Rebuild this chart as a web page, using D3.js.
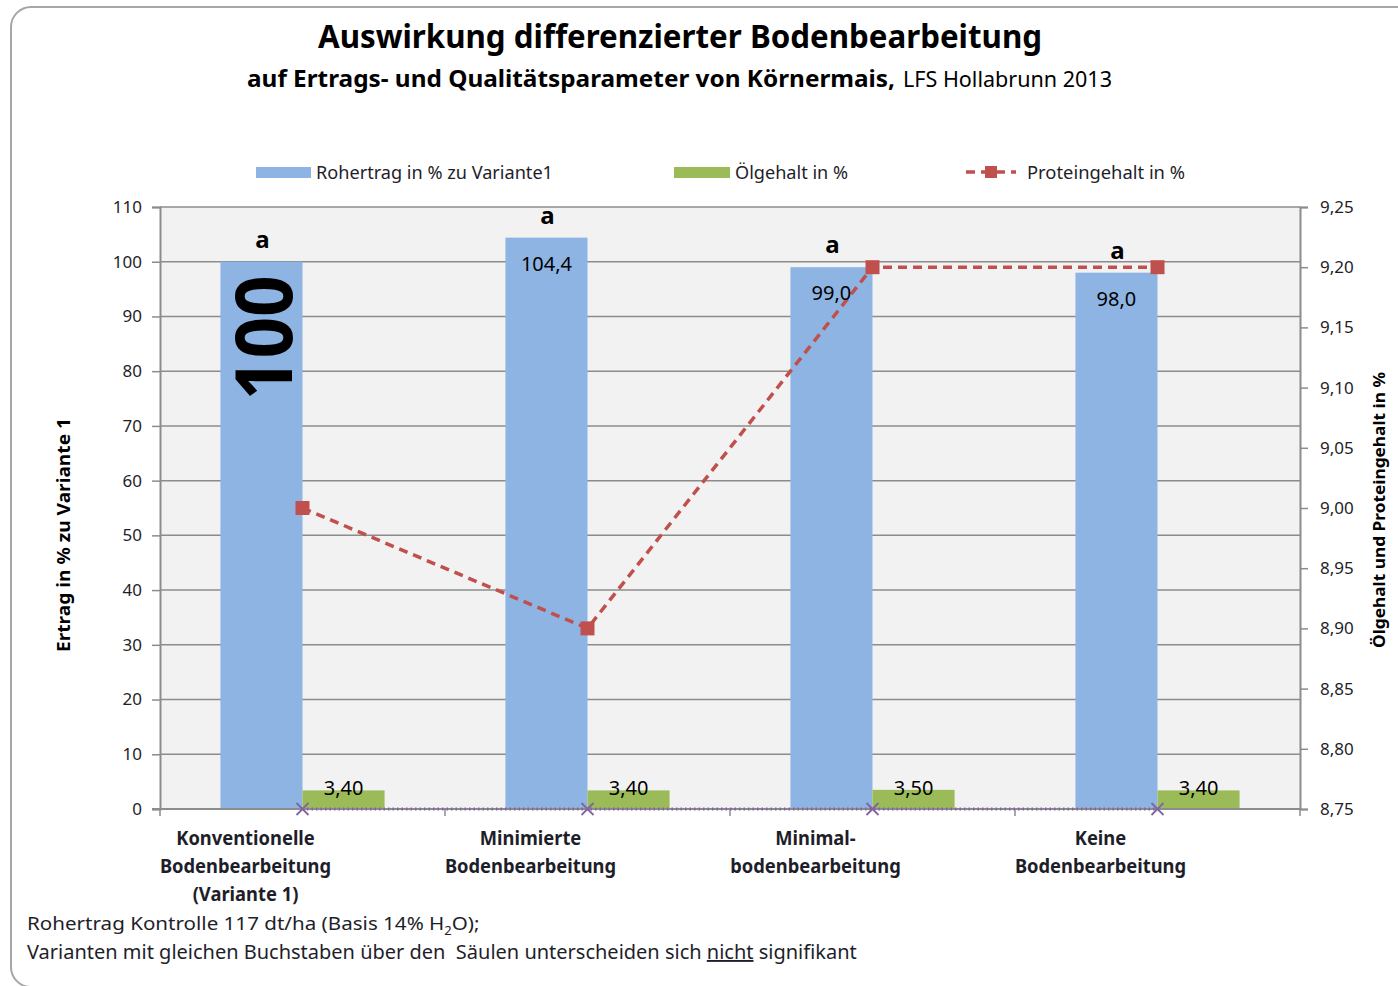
<!DOCTYPE html>
<html>
<head>
<meta charset="utf-8">
<script src="https://cdn.jsdelivr.net/npm/d3@7"></script>
<style>
  body { margin: 0; background: #fff; }
  svg { display: block; font-family: "Noto Sans", "Open Sans", sans-serif; }
</style>
</head>
<body>
<div id="chart"></div>
<script>
var categories = [
  ["Konventionelle", "Bodenbearbeitung", "(Variante 1)"],
  ["Minimierte", "Bodenbearbeitung"],
  ["Minimal-", "bodenbearbeitung"],
  ["Keine", "Bodenbearbeitung"]
];
var rohertrag = [100, 104.4, 99.0, 98.0];
var oelgehalt = [3.4, 3.4, 3.5, 3.4];
var protein = [9.0, 8.9, 9.2, 9.2];
var hidden = [0, 0, 0, 0];
var letters = ["a", "a", "a", "a"];
var leftTicks = [0, 10, 20, 30, 40, 50, 60, 70, 80, 90, 100, 110];
var rightTicks = [8.75, 8.8, 8.85, 8.9, 8.95, 9.0, 9.05, 9.1, 9.15, 9.2, 9.25];

var W = 1398, H = 986;
var plot = { left: 160, right: 1300, top: 207, bottom: 809 };
var blue = "#8eb4e3", green = "#9bbb59", red = "#c0504d", purple = "#8064a2";
var gridColor = "#8c8c8c", textColor = "#1e1e2a";

var fmt = function(v, n) { return v.toFixed(n).replace(".", ","); };
var fit = function(sel, w) {
  return sel.attr("textLength", w).attr("lengthAdjust", "spacingAndGlyphs");
};
// horizontal squeeze for texts built from several tspans
var squeeze = function(sel, x0, w) {
  var bw = sel.node().getBBox().width;
  sel.attr("transform", "translate(" + x0 + ",0) scale(" + (w / bw) + ",1) translate(" + -x0 + ",0)");
};

var svg = d3.select("#chart").append("svg").attr("width", W).attr("height", H);

// outer frame
svg.append("rect")
  .attr("x", 11).attr("y", 7).attr("width", 1430).attr("height", 980)
  .attr("rx", 20).attr("fill", "#fff")
  .attr("stroke", "#a6a6a6").attr("stroke-width", 2);

// titles
fit(svg.append("text").attr("x", 318).attr("y", 48)
  .attr("font-size", 33).attr("font-weight", "bold").attr("fill", "#000")
  .text("Auswirkung differenzierter Bodenbearbeitung"), 724);
fit(svg.append("text").attr("x", 247).attr("y", 87)
  .attr("font-size", 24).attr("font-weight", "bold").attr("fill", "#000")
  .text("auf Ertrags- und Qualitätsparameter von Körnermais,"), 648);
fit(svg.append("text").attr("x", 903).attr("y", 87)
  .attr("font-size", 22).attr("fill", "#000")
  .text("LFS Hollabrunn 2013"), 209);

var x = d3.scaleBand().domain(d3.range(categories.length))
  .range([plot.left, plot.right]).paddingInner(0).paddingOuter(0);
var barW = x.bandwidth() * 0.288;
var cx = function(i) { return x(i) + x.bandwidth() / 2; };
var yL = d3.scaleLinear().domain([0, 110]).range([plot.bottom, plot.top]);
var yR = d3.scaleLinear().domain([8.75, 9.25]).range([plot.bottom, plot.top]);

// plot background and grid
svg.append("rect")
  .attr("x", plot.left).attr("y", plot.top)
  .attr("width", plot.right - plot.left).attr("height", plot.bottom - plot.top)
  .attr("fill", "#f2f2f2");

svg.append("g").attr("class", "grid")
  .selectAll("line").data(leftTicks.slice(1)).enter().append("line")
  .attr("x1", plot.left).attr("x2", plot.right)
  .attr("y1", function(d) { return yL(d); }).attr("y2", function(d) { return yL(d); })
  .attr("stroke", gridColor).attr("stroke-width", 1.5);

// left axis
var leftAxis = svg.append("g")
  .attr("transform", "translate(" + plot.left + ",0)")
  .call(d3.axisLeft(yL).tickValues(leftTicks).tickSize(8).tickPadding(10));
leftAxis.select(".domain").attr("stroke", gridColor).attr("stroke-width", 2);
leftAxis.selectAll(".tick line").attr("stroke", gridColor).attr("stroke-width", 1.5);
leftAxis.selectAll(".tick text")
  .attr("font-size", 17).attr("fill", textColor).attr("font-family", "Noto Sans");

// right axis
var rightAxis = svg.append("g")
  .attr("transform", "translate(" + plot.right + ",0)")
  .call(d3.axisRight(yR).tickValues(rightTicks).tickSize(8).tickPadding(12)
    .tickFormat(function(d) { return fmt(d, 2); }));
rightAxis.select(".domain").attr("stroke", gridColor).attr("stroke-width", 2);
rightAxis.selectAll(".tick line").attr("stroke", gridColor).attr("stroke-width", 1.5);
rightAxis.selectAll(".tick text")
  .attr("font-size", 17).attr("fill", textColor).attr("font-family", "Noto Sans");

// bars
var bars = svg.append("g").attr("class", "bars");
bars.selectAll(".blue").data(rohertrag).enter().append("rect")
  .attr("class", "blue")
  .attr("x", function(d, i) { return cx(i) - barW; })
  .attr("y", function(d) { return yL(d); })
  .attr("width", barW)
  .attr("height", function(d) { return yL(0) - yL(d); })
  .attr("fill", blue);
bars.selectAll(".green").data(oelgehalt).enter().append("rect")
  .attr("class", "green")
  .attr("x", function(d, i) { return cx(i); })
  .attr("y", function(d) { return yL(d); })
  .attr("width", barW)
  .attr("height", function(d) { return yL(0) - yL(d); })
  .attr("fill", green);

// x axis
var xAxis = svg.append("g");
xAxis.append("line")
  .attr("x1", plot.left - 8).attr("x2", plot.right)
  .attr("y1", plot.bottom).attr("y2", plot.bottom)
  .attr("stroke", gridColor).attr("stroke-width", 2);
xAxis.selectAll(".xt").data(d3.range(categories.length + 1)).enter().append("line")
  .attr("x1", function(d) { return plot.left + d * x.bandwidth(); })
  .attr("x2", function(d) { return plot.left + d * x.bandwidth(); })
  .attr("y1", plot.bottom).attr("y2", plot.bottom + 7)
  .attr("stroke", gridColor).attr("stroke-width", 1.5);

// hidden series on the baseline
var lineH = d3.line().x(function(d, i) { return cx(i); }).y(function(d) { return yL(d); });
svg.append("path").datum(hidden)
  .attr("d", lineH).attr("fill", "none")
  .attr("stroke", purple).attr("stroke-width", 3).attr("stroke-dasharray", "1.5,3");
svg.selectAll(".cross").data(hidden).enter().append("path")
  .attr("class", "cross")
  .attr("d", function(d, i) {
    var px = cx(i), py = yL(d), s = 6;
    return "M" + (px - s) + "," + (py - s) + "L" + (px + s) + "," + (py + s) +
      "M" + (px - s) + "," + (py + s) + "L" + (px + s) + "," + (py - s);
  })
  .attr("stroke", purple).attr("stroke-width", 1.8);

// protein line
var lineP = d3.line().x(function(d, i) { return cx(i); }).y(function(d) { return yR(d); });
svg.append("path").datum(protein)
  .attr("d", lineP).attr("fill", "none")
  .attr("stroke", red).attr("stroke-width", 3.5).attr("stroke-dasharray", "9,6");
svg.selectAll(".pm").data(protein).enter().append("rect")
  .attr("class", "pm")
  .attr("x", function(d, i) { return cx(i) - 7; })
  .attr("y", function(d) { return yR(d) - 7; })
  .attr("width", 14).attr("height", 14).attr("fill", red);

// value labels
svg.append("text")
  .attr("transform", "translate(" + (cx(0) - barW / 2 + 31) + "," + (yL(rohertrag[0]) + 76) + ") rotate(-90)")
  .attr("text-anchor", "middle").attr("font-size", 78).attr("font-weight", "bold")
  .attr("fill", "#000").attr("textLength", 125).attr("lengthAdjust", "spacingAndGlyphs")
  .text(fmt(rohertrag[0], 0));
svg.selectAll(".vl").data(rohertrag.slice(1)).enter().append("text")
  .attr("class", "vl")
  .attr("x", function(d, i) { return cx(i + 1) - barW / 2; })
  .attr("y", function(d) { return yL(d) + 33; })
  .attr("text-anchor", "middle").attr("font-size", 20).attr("fill", "#000")
  .text(function(d) { return fmt(d, 1); });
svg.selectAll(".lt").data(letters).enter().append("text")
  .attr("class", "lt")
  .attr("x", function(d, i) { return cx(i) - barW / 2 + 1; })
  .attr("y", function(d, i) { return yL(rohertrag[i]) - 14; })
  .attr("text-anchor", "middle").attr("font-size", 24).attr("font-weight", "bold")
  .attr("fill", "#000")
  .text(function(d) { return d; });
svg.selectAll(".gl").data(oelgehalt).enter().append("text")
  .attr("class", "gl")
  .attr("x", function(d, i) { return cx(i) + barW / 2; })
  .attr("y", function(d) { return yL(d) + 5; })
  .attr("text-anchor", "middle").attr("font-size", 20).attr("fill", "#000")
  .text(function(d) { return fmt(d, 2); });

// category labels
var cat = svg.selectAll(".cat").data(categories).enter().append("g").attr("class", "cat");
cat.selectAll("text").data(function(d, i) {
    return d.map(function(t, j) { return { t: t, j: j, i: i }; });
  })
  .enter().append("text")
  .attr("x", function(d) { return cx(d.i) - x.bandwidth() * 0.2; })
  .attr("y", function(d) { return 845 + d.j * 28; })
  .attr("text-anchor", "middle").attr("font-size", 19).attr("font-weight", "bold")
  .attr("fill", textColor)
  .text(function(d) { return d.t; })
  .each(function() {
    var s = d3.select(this);
    var w = this.getComputedTextLength();
    fit(s, w * 0.965);
  });

// axis titles
fit(svg.append("text")
  .attr("transform", "translate(70,535) rotate(-90)")
  .attr("text-anchor", "middle").attr("font-size", 18).attr("font-weight", "bold")
  .attr("fill", "#000").text("Ertrag in % zu Variante 1"), 234);
fit(svg.append("text")
  .attr("transform", "translate(1385,510) rotate(-90)")
  .attr("text-anchor", "middle").attr("font-size", 16).attr("font-weight", "bold")
  .attr("fill", "#000").text("Ölgehalt und Proteingehalt in %"), 276);

// legend
var legend = svg.append("g").attr("class", "legend");
legend.append("rect").attr("x", 256).attr("y", 167).attr("width", 55).attr("height", 11).attr("fill", blue);
fit(legend.append("text").attr("x", 316).attr("y", 179).attr("font-size", 18).attr("fill", textColor)
  .text("Rohertrag in % zu Variante1"), 237);
legend.append("rect").attr("x", 674).attr("y", 167).attr("width", 56).attr("height", 11).attr("fill", green);
fit(legend.append("text").attr("x", 735).attr("y", 179).attr("font-size", 18).attr("fill", textColor)
  .text("Ölgehalt in %"), 113);
legend.append("line").attr("x1", 966).attr("x2", 1016).attr("y1", 172).attr("y2", 172)
  .attr("stroke", red).attr("stroke-width", 3.5).attr("stroke-dasharray", "9,6");
legend.append("rect").attr("x", 985).attr("y", 166).attr("width", 12).attr("height", 12).attr("fill", red);
fit(legend.append("text").attr("x", 1027).attr("y", 179).attr("font-size", 18).attr("fill", textColor)
  .text("Proteingehalt in %"), 158);

// footnotes
var f1 = svg.append("text").attr("x", 27).attr("y", 930).attr("font-size", 19).attr("fill", textColor);
f1.append("tspan").text("Rohertrag Kontrolle 117 dt/ha (Basis 14% H");
f1.append("tspan").attr("font-size", 12).attr("dy", 5).text("2");
f1.append("tspan").attr("dy", -5).text("O);");
squeeze(f1, 27, 453);
var f2 = svg.append("text").attr("x", 27).attr("y", 959).attr("font-size", 19).attr("fill", textColor)
  .attr("xml:space", "preserve");
f2.append("tspan").text("Varianten mit gleichen Buchstaben über den  Säulen unterscheiden sich ");
f2.append("tspan").attr("text-decoration", "underline").text("nicht");
f2.append("tspan").text(" signifikant");
squeeze(f2, 27, 830);
</script>
</body>
</html>
